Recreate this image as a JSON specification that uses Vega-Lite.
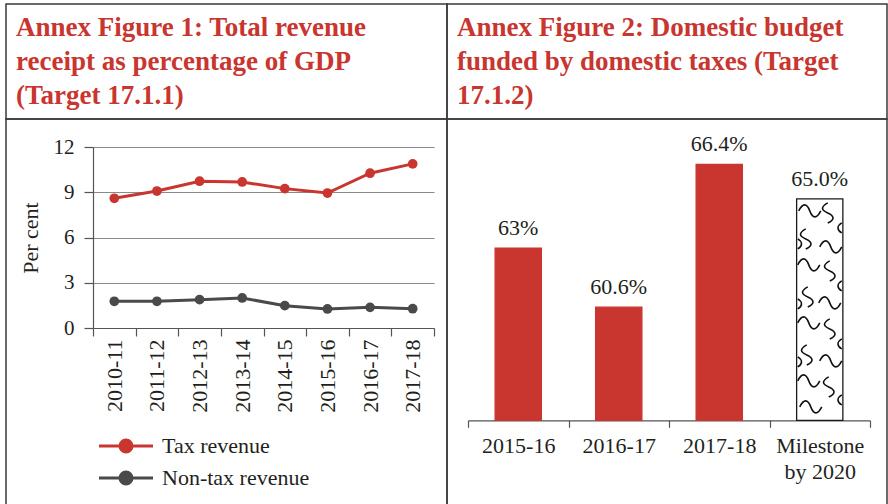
{
  "$schema": "https://vega.github.io/schema/vega-lite/v6.json",
  "background": "white",
  "padding": {"left": -6, "top": 3, "right": 0, "bottom": 0},
  "spacing": 0,
  "columns": 2,
  "bounds": "flush",
  "resolve": {"scale": {"x": "independent", "y": "independent", "color": "independent", "stroke": "independent"}, "legend": {"color": "independent"}},
  "config": {
    "font": "Liberation Serif",
    "view": {"stroke": "#3a3a3a", "strokeWidth": 1.5},
    "axis": {
      "labelFont": "Liberation Serif", "titleFont": "Liberation Serif",
      "labelColor": "#231F20", "titleColor": "#231F20",
      "domainColor": "#555555", "tickColor": "#555555",
      "domainWidth": 1.2, "tickWidth": 1.2
    },
    "legend": {"labelFont": "Liberation Serif"}
  },
  "concat": [
    {
      "width": 441, "height": 115,
      "data": {"values": [
        {"line": 1, "heading": "Annex Figure 1: Total revenue"},
        {"line": 2, "heading": "receipt as percentage of GDP"},
        {"line": 3, "heading": "(Target 17.1.1)"}
      ]},
      "mark": {"type": "text", "align": "left", "baseline": "alphabetic", "font": "Liberation Serif", "fontSize": 27, "fontWeight": "bold", "color": "#C9352F"},
      "encoding": {
        "x": {"value": 10},
        "y": {"field": "line", "type": "ordinal", "scale": {"type": "point", "range": [31.5, 100], "padding": 0}, "axis": null},
        "text": {"field": "heading"}
      }
    },
    {
      "width": 440, "height": 115,
      "data": {"values": [
        {"line": 1, "heading": "Annex Figure 2: Domestic budget"},
        {"line": 2, "heading": "funded by domestic taxes (Target"},
        {"line": 3, "heading": "17.1.2)"}
      ]},
      "mark": {"type": "text", "align": "left", "baseline": "alphabetic", "font": "Liberation Serif", "fontSize": 27, "fontWeight": "bold", "color": "#C9352F"},
      "encoding": {
        "x": {"value": 10},
        "y": {"field": "line", "type": "ordinal", "scale": {"type": "point", "range": [31.5, 100], "padding": 0}, "axis": null},
        "text": {"field": "heading"}
      }
    },
    {
      "width": 441, "height": 390,
      "data": {"values": [
        {"year": "2010-11", "series": "Tax revenue", "pct": 8.6},
        {"year": "2011-12", "series": "Tax revenue", "pct": 9.08},
        {"year": "2012-13", "series": "Tax revenue", "pct": 9.73},
        {"year": "2013-14", "series": "Tax revenue", "pct": 9.68},
        {"year": "2014-15", "series": "Tax revenue", "pct": 9.24},
        {"year": "2015-16", "series": "Tax revenue", "pct": 8.95},
        {"year": "2016-17", "series": "Tax revenue", "pct": 10.26},
        {"year": "2017-18", "series": "Tax revenue", "pct": 10.88},
        {"year": "2010-11", "series": "Non-tax revenue", "pct": 1.77},
        {"year": "2011-12", "series": "Non-tax revenue", "pct": 1.77},
        {"year": "2012-13", "series": "Non-tax revenue", "pct": 1.88},
        {"year": "2013-14", "series": "Non-tax revenue", "pct": 1.99},
        {"year": "2014-15", "series": "Non-tax revenue", "pct": 1.48},
        {"year": "2015-16", "series": "Non-tax revenue", "pct": 1.26},
        {"year": "2016-17", "series": "Non-tax revenue", "pct": 1.37},
        {"year": "2017-18", "series": "Non-tax revenue", "pct": 1.28}
      ]},
      "encoding": {
        "x": {
          "field": "year", "type": "ordinal", "sort": null, "bandPosition": 0.5,
          "scale": {"type": "band", "range": [87, 428], "paddingInner": 0, "paddingOuter": 0},
          "axis": {
            "title": null, "orient": "bottom", "offset": -181, "labelAngle": -90,
            "labelFontSize": 22, "labelPadding": 3, "tickBand": "extent", "tickSize": 8, "grid": false
          }
        },
        "y": {
          "field": "pct", "type": "quantitative",
          "scale": {"domain": [0, 12], "range": [209, 28], "zero": false, "nice": false},
          "axis": {
            "title": "Per cent", "values": [0, 3, 6, 9, 12], "offset": -87, "tickSize": 9,
            "labelFontSize": 21, "labelPadding": 10, "grid": true, "gridColor": "#8a8a8a",
            "gridWidth": 1.2, "titleFontSize": 22, "titleFontWeight": "normal",
            "titleX": -51, "titleY": 118.5, "titleAngle": -90, "titleAlign": "center", "titleBaseline": "bottom"
          }
        },
        "color": {
          "field": "series", "type": "nominal",
          "scale": {"domain": ["Tax revenue", "Non-tax revenue"], "range": ["#C9352F", "#4A4A4A"]},
          "legend": {
            "title": null, "orient": "none", "legendX": 109, "legendY": 316,
            "symbolType": "M-27,0H27M6,0A6,6,0,1,1,-6,0A6,6,0,1,1,6,0Z",
            "symbolSize": 4, "symbolStrokeWidth": 3, "symbolOpacity": 1,
            "labelFontSize": 22, "labelOffset": 25, "rowPadding": 8, "padding": 0,
            "labelColor": "#231F20"
          }
        }
      },
      "layer": [
        {"mark": {"type": "line", "strokeWidth": 3}},
        {"mark": {"type": "point", "filled": true, "size": 95, "opacity": 1}}
      ]
    },
    {
      "width": 440, "height": 390,
      "data": {"values": [
        {"period": "2015-16", "share": 63.0, "label": "63%", "kind": "Actual"},
        {"period": "2016-17", "share": 60.6, "label": "60.6%", "kind": "Actual"},
        {"period": "2017-18", "share": 66.4, "label": "66.4%", "kind": "Actual"},
        {"period": "Milestone by 2020", "share": 65.0, "label": "65.0%", "kind": "Milestone"}
      ]},
      "encoding": {
        "x": {
          "field": "period", "type": "ordinal", "sort": null, "bandPosition": 0.5,
          "scale": {"type": "band", "range": [21, 423], "paddingInner": 0, "paddingOuter": 0},
          "axis": {
            "title": null, "orient": "bottom", "offset": -88.7, "labelAngle": 0,
            "labelFontSize": 22, "labelPadding": 8, "labelLineHeight": 26,
            "tickBand": "extent", "tickSize": 7, "grid": false,
            "labelExpr": "datum.label == 'Milestone by 2020' ? ['Milestone', 'by 2020'] : datum.label"
          }
        }
      },
      "layer": [
        {
          "mark": {"type": "bar", "width": {"band": 0.46}, "strokeWidth": 1.3},
          "encoding": {
            "y": {
              "field": "share", "type": "quantitative",
              "scale": {"domain": [56, 68], "range": [301.3, 6.1], "zero": false, "nice": false},
              "axis": null
            },
            "y2": {"datum": 56},
            "color": {"field": "kind", "type": "nominal", "scale": {"domain": ["Actual", "Milestone"], "range": ["#C9352F", "#ffffff"]}, "legend": null},
            "stroke": {"field": "kind", "type": "nominal", "scale": {"domain": ["Actual", "Milestone"], "range": ["#C9352F", "#1a1a1a"]}, "legend": null}
          }
        },
        {
          "transform": [{"filter": "datum.kind === 'Milestone'"}],
          "mark": {
            "type": "point", "filled": false, "size": 4, "opacity": 1, "color": "#111111", "strokeWidth": 1.6,
            "shape": "M-21,12c4,-8 8,-8 11,0s7,8 11,0M8,4c-7,4 -7,7 0,10s7,7 0,10M-14,30c-7,4 -7,7 0,10s7,7 0,10M0,48c4,-8 8,-8 11,0s7,8 11,0M-22,66c4,-8 8,-8 11,0s7,8 11,0M10,62c-7,4 -7,7 0,10s7,7 0,10M-12,88c-7,4 -7,7 0,10s7,7 0,10M-1,104c4,-8 8,-8 11,0s7,8 11,0M-22,124c4,-8 8,-8 11,0s7,8 11,0M10,120c-7,4 -7,7 0,10s7,7 0,10M-13,146c-7,4 -7,7 0,10s7,7 0,10M0,162c4,-8 8,-8 11,0s7,8 11,0M-22,182c4,-8 8,-8 11,0s7,8 11,0M9,178c-7,4 -7,7 0,10s7,7 0,10M-20,208c4,-8 8,-8 11,0s7,8 11,0M22,24c-5,3 -5,7 0,10M22,82c-5,3 -5,7 0,10M22,140c-5,3 -5,7 0,10M22,196c-5,3 -5,7 0,10M-22,40c5,3 5,7 0,10M-22,100c5,3 5,7 0,10M-22,158c5,3 5,7 0,10"
          },
          "encoding": {"y": {"field": "share", "type": "quantitative"}}
        },
        {
          "mark": {"type": "text", "fontSize": 22, "dy": -13, "baseline": "alphabetic", "color": "#231F20"},
          "encoding": {
            "y": {"field": "share", "type": "quantitative"},
            "text": {"field": "label"}
          }
        }
      ]
    }
  ]
}
